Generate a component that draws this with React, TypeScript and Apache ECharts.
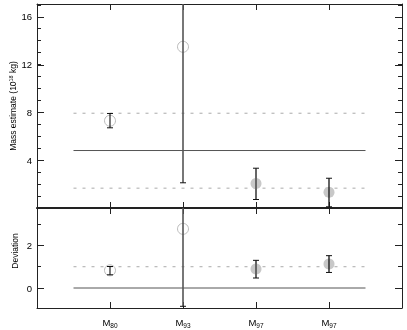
import React, { useEffect, useRef } from "react";
import * as echarts from "echarts";

// ---- data ----
const categories = ["80", "93", "97", "97"];
const filledMarker = [false, false, true, true];
const massCenter = [7.3, 13.49, 2.05, 1.32];
const massLow = [6.71, 2.11, 0.71, 0.1];
const massHigh = [7.91, 24.9, 3.33, 2.49];
const devCenter = [0.83, 2.78, 0.89, 1.13];
const devLow = [0.62, -0.86, 0.47, 0.73];
const devHigh = [1.01, 6.42, 1.3, 1.52];
const massSolidRef = 4.81;
const massDashedRefs = [7.93, 1.66];
const devSolidRef = 0;
const devDashedRefs = [1];
const refSpan = [0.5, 4.5];
const massTickLabels = [4, 8, 12, 16];
const massAllTicks = [1, 2, 3, 4, 5, 6, 7, 8, 9, 10, 11, 12, 13, 14, 15, 16, 17];
const devTickLabels = [0, 2];
const devAllTicks = [0, 1, 2, 3];

// ---- styles ----
const barColors = ["#111", "#555", "#666", "#111"];
const barWidths = [1.1, 1.6, 2, 1.3];
const AX = "#222";
const FONT = "Liberation Sans, Arial, sans-serif";

function xAxis(gridIndex: number, position: "top" | "bottom", labels: boolean, lineWidth: number) {
  return {
    type: "value",
    gridIndex,
    position,
    min: 0,
    max: 5,
    axisLine: { show: true, onZero: false, lineStyle: { color: AX, width: lineWidth } },
    axisTick: { show: true, inside: true, length: 6, customValues: [1, 2, 3, 4], lineStyle: { color: AX } },
    splitLine: { show: false },
    axisLabel: labels
      ? {
          show: true,
          customValues: [1, 2, 3, 4],
          margin: 7,
          fontFamily: FONT,
          color: "#000000",
          formatter: (v: number) => `{m|M}{s|${categories[Math.round(v) - 1]}}`,
          rich: {
            m: { fontSize: 9.5, fontFamily: FONT, color: "#000000", lineHeight: 14 },
            s: { fontSize: 6.5, fontFamily: FONT, color: "#000000", verticalAlign: "bottom", lineHeight: 8 },
          },
        }
      : { show: false },
  };
}

function yAxis(
  gridIndex: number,
  position: "left" | "right",
  min: number,
  max: number,
  ticks: number[],
  labelValues: number[],
  labels: boolean,
  name?: any
) {
  return {
    type: "value",
    gridIndex,
    position,
    min,
    max,
    nameMoveOverlap: false,
    axisLine: { show: true, onZero: false, lineStyle: { color: AX, width: 1 } },
    axisTick: { show: true, inside: true, length: 4, customValues: ticks, lineStyle: { color: AX } },
    splitLine: { show: false },
    axisLabel: labels
      ? { show: true, customValues: labelValues, margin: 5, fontSize: 9.5, fontFamily: FONT, color: "#000" }
      : { show: false },
    ...(name || {}),
  };
}

function refLine(xi: number, yi: number, y: number, dashed: boolean) {
  return {
    type: "line",
    xAxisIndex: xi,
    yAxisIndex: yi,
    silent: true,
    symbol: "none",
    data: [
      [refSpan[0], y],
      [refSpan[1], y],
    ],
    lineStyle: dashed ? { color: "#aaa", width: 1, type: [3, 6] } : { color: "#555", width: 1 },
    z: 1,
  };
}

function markers(xi: number, yi: number, centers: number[], filled: boolean) {
  return {
    type: "scatter",
    xAxisIndex: xi,
    yAxisIndex: yi,
    silent: true,
    symbol: "circle",
    symbolSize: 11,
    data: centers.map((c, i) => [i + 1, c]).filter((_, i) => filledMarker[i] === filled),
    itemStyle: filled
      ? { color: "#c8c8c8", borderWidth: 0, opacity: 1 }
      : { color: "rgba(0,0,0,0)", borderColor: "#bbb", borderWidth: 1, opacity: 1 },
    z: 2,
  };
}

// longer major ticks on both sides, at the labelled values
function majorTicks(xi: number, yi: number, values: number[]) {
  return {
    type: "custom",
    xAxisIndex: xi,
    yAxisIndex: yi,
    silent: true,
    z: 4,
    data: values.map((v) => [0, v]),
    encode: { x: 0, y: 1 },
    renderItem: (params: any, api: any) => {
      const cs = params.coordSys;
      const p = api.coord([0, api.value(1)]);
      const y = Math.round(p[1]) + 0.5;
      const L = 7;
      return {
        type: "group",
        children: [
          { type: "line", shape: { x1: cs.x, y1: y, x2: cs.x + L, y2: y }, style: { stroke: AX, lineWidth: 1 } },
          {
            type: "line",
            shape: { x1: cs.x + cs.width - L, y1: y, x2: cs.x + cs.width, y2: y },
            style: { stroke: AX, lineWidth: 1 },
          },
        ],
      };
    },
  };
}

function errorBars(xi: number, yi: number, centers: number[], lows: number[], highs: number[]) {
  return {
    type: "custom",
    xAxisIndex: xi,
    yAxisIndex: yi,
    silent: true,
    z: 3,
    data: centers.map((c, i) => [i + 1, c, lows[i], highs[i], i]),
    encode: { x: 0, y: 1 },
    renderItem: (params: any, api: any) => {
      const cs = params.coordSys;
      const top = cs.y;
      const bottom = cs.y + cs.height;
      const i = api.value(4);
      const pLow = api.coord([api.value(0), api.value(2)]);
      const pHigh = api.coord([api.value(0), api.value(3)]);
      const x = pLow[0];
      const yl = Math.min(bottom, Math.max(top, pLow[1]));
      const yh = Math.min(bottom, Math.max(top, pHigh[1]));
      const children: any[] = [
        {
          type: "line",
          shape: { x1: x, y1: yl, x2: x, y2: yh },
          style: { stroke: barColors[i], lineWidth: barWidths[i] },
        },
      ];
      const cap = 3;
      if (pLow[1] <= bottom && pLow[1] >= top)
        children.push({
          type: "line",
          shape: { x1: x - cap, y1: pLow[1], x2: x + cap, y2: pLow[1] },
          style: { stroke: "#111", lineWidth: 1 },
        });
      if (pHigh[1] <= bottom && pHigh[1] >= top)
        children.push({
          type: "line",
          shape: { x1: x - cap, y1: pHigh[1], x2: x + cap, y2: pHigh[1] },
          style: { stroke: "#111", lineWidth: 1 },
        });
      return { type: "group", children };
    },
  };
}

export default function App() {
  const ref = useRef<HTMLDivElement>(null);
  useEffect(() => {
    if (!ref.current) return;
    const chart = echarts.init(ref.current, null, { renderer: "svg" });
    const massMin = 0;
    const massMax = 17.07;
    const devMin = -0.94;
    const devMax = 3.76;
    chart.setOption({
      animation: false,
      backgroundColor: "#fff",
      textStyle: { fontFamily: FONT },
      grid: [
        { left: 37, right: 5, top: 4, height: 204, outerBoundsMode: "none", containLabel: false },
        { left: 37, right: 5, top: 208, height: 100, outerBoundsMode: "none", containLabel: false },
      ],
      xAxis: [
        xAxis(0, "bottom", false, 2),
        xAxis(0, "top", false, 1),
        xAxis(1, "bottom", true, 1),
        xAxis(1, "top", false, 1),
      ],
      yAxis: [
        yAxis(0, "left", massMin, massMax, massAllTicks, massTickLabels, true, {
          name: "Mass estimate (10{sup|18} kg)",
          nameLocation: "middle",
          nameGap: 20,
          nameTextStyle: {
            fontSize: 8.5,
            fontFamily: FONT,
            color: "#000",
            rich: { sup: { fontSize: 5.5, fontFamily: FONT, color: "#000", verticalAlign: "top", lineHeight: 5 } },
          },
        }),
        yAxis(0, "right", massMin, massMax, massAllTicks, massTickLabels, false),
        yAxis(1, "left", devMin, devMax, devAllTicks, devTickLabels, true, {
          name: "Deviation",
          nameLocation: "middle",
          nameGap: 18,
          nameTextStyle: { fontSize: 8.5, fontFamily: FONT, color: "#000", padding: [0, 0, 0, 14] },
        }),
        yAxis(1, "right", devMin, devMax, devAllTicks, devTickLabels, false),
      ],
      series: [
        refLine(0, 0, massSolidRef, false),
        ...massDashedRefs.map((v) => refLine(0, 0, v, true)),
        refLine(2, 2, devSolidRef, false),
        ...devDashedRefs.map((v) => refLine(2, 2, v, true)),
        markers(0, 0, massCenter, false),
        markers(0, 0, massCenter, true),
        markers(2, 2, devCenter, false),
        markers(2, 2, devCenter, true),
        errorBars(0, 0, massCenter, massLow, massHigh),
        errorBars(2, 2, devCenter, devLow, devHigh),
        majorTicks(0, 0, massTickLabels),
        majorTicks(2, 2, devTickLabels),
      ],
    });
    return () => chart.dispose();
  }, []);
  return (
    <div
      ref={ref}
      style={{
        position: "fixed",
        left: 0,
        top: 0,
        width: 407,
        height: 330,
        background: "#fff",
        filter: "grayscale(1)",
      }}
    />
  );
}
